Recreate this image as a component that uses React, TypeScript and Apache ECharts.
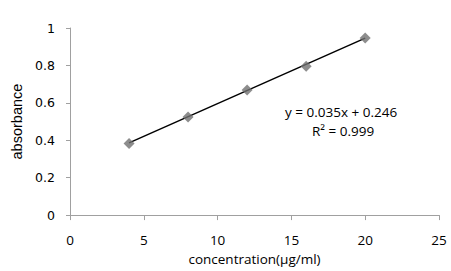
import React, { useEffect, useRef } from "react";
import * as echarts from "echarts";

const concentration = [4, 8, 12, 16, 20];
const absorbance = [0.383, 0.524, 0.668, 0.796, 0.946];
const slope = 0.035;
const intercept = 0.246;
const xTicks = [0, 5, 10, 15, 20, 25];
const yTicks = [0, 0.2, 0.4, 0.6, 0.8, 1];

export default function App() {
  const ref = useRef<HTMLDivElement>(null);
  useEffect(() => {
    const chart = echarts.init(ref.current!, null, { renderer: "svg" });
    const font = "'Open Sans', sans-serif";
    const trend = [concentration[0], concentration[concentration.length - 1]].map((x) => [x, slope * x + intercept]);
    chart.setOption({
      animation: false,
      backgroundColor: "#ffffff",
      grid: { left: 70, right: 12, top: 28, bottom: 53 },
      xAxis: {
        type: "value",
        min: xTicks[0],
        max: xTicks[xTicks.length - 1],
        interval: 5,
        name: "concentration(μg/ml)",
        nameLocation: "middle",
        nameGap: 32,
        nameTextStyle: { color: "#000", fontSize: 13.5, fontFamily: font },
        axisLine: { lineStyle: { color: "#a0a0a0", width: 1 } },
        axisTick: { show: true, length: 5, lineStyle: { color: "#a0a0a0" } },
        axisLabel: { color: "#000", fontSize: 13.5, fontFamily: font, margin: 18 },
        splitLine: { show: false },
      },
      yAxis: {
        type: "value",
        min: yTicks[0],
        max: yTicks[yTicks.length - 1],
        interval: 0.2,
        name: "absorbance",
        nameLocation: "middle",
        nameGap: 45,
        nameTextStyle: { color: "#000", fontSize: 14.5, fontFamily: "'Liberation Sans', Arial, sans-serif" },
        axisLine: { show: true, lineStyle: { color: "#a0a0a0", width: 1 } },
        axisTick: { show: true, length: 4, lineStyle: { color: "#a0a0a0" } },
        axisLabel: {
          color: "#000",
          fontSize: 12.5,
          fontFamily: "'DejaVu Sans', sans-serif",
          margin: 15,
          formatter: (v: number) => String(Math.round(v * 10) / 10),
        },
        splitLine: { show: false },
      },
      series: [
        {
          type: "line",
          data: trend,
          showSymbol: false,
          symbol: "none",
          lineStyle: { color: "#000", width: 1.5 },
          z: 2,
        },
        {
          type: "scatter",
          data: concentration.map((x, i) => [x, absorbance[i]]),
          symbol: "diamond",
          symbolSize: [11, 11],
          itemStyle: { color: "#707070" },
          z: 3,
        },
      ],
      graphic: [
        {
          type: "text",
          left: 285,
          top: 105,
          style: {
            text: "y = 0.035x + 0.246",
            fill: "#000",
            font: `13.5px ${font}`,
          },
        },
        {
          type: "text",
          left: 312,
          top: 124,
          style: {
            text: "R² = 0.999",
            fill: "#000",
            font: `13.5px ${font}`,
          },
        },
      ],
    });
    return () => chart.dispose();
  }, []);
  return <div ref={ref} style={{ position: "absolute", left: 0, top: 0, width: 451, height: 271 }} />;
}
